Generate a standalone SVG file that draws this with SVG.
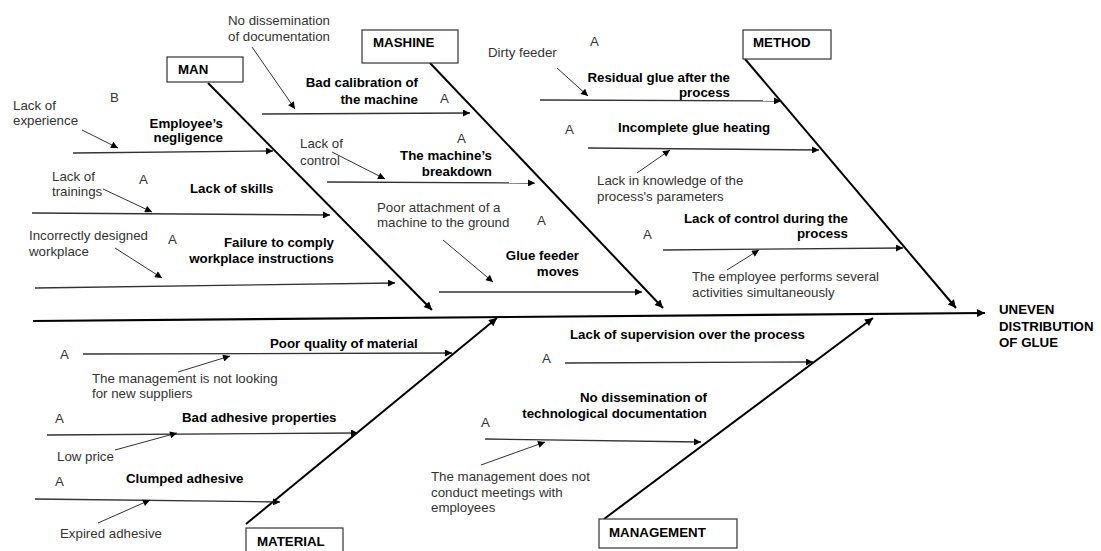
<svg xmlns="http://www.w3.org/2000/svg" width="1101" height="551" viewBox="0 0 1101 551">
<style>
.b{font-family:"Liberation Sans",Arial,sans-serif;font-weight:bold;font-size:13.3px;fill:#000}
.r{font-family:"Liberation Sans",Arial,sans-serif;font-size:13.3px;fill:#333}
.e{text-anchor:end}
.box{fill:#fff;stroke:#333;stroke-width:1.2}
.spine{stroke:#000;stroke-width:2.2;fill:none}
.bone{stroke:#000;stroke-width:2;fill:none}
.sub{stroke:#333;stroke-width:1.3;fill:none}
.thin{stroke:#333;stroke-width:1;fill:none}
</style>
<defs>
<marker id="ah" viewBox="0 0 10 10" refX="10" refY="5" markerWidth="11" markerHeight="8" markerUnits="userSpaceOnUse" orient="auto"><path d="M0,0 L10,5 L0,10 z" fill="#000"/></marker>
<marker id="as" viewBox="0 0 10 10" refX="10" refY="5" markerWidth="10" markerHeight="7" markerUnits="userSpaceOnUse" orient="auto"><path d="M0,0 L10,5 L0,10 z" fill="#000"/></marker>
</defs>
<rect width="1101" height="551" fill="#fff"/>
<g id="connectors">
<line class="spine" x1="33" y1="321" x2="985" y2="313" marker-end="url(#ah)"/>
<line class="bone" x1="208" y1="83" x2="432" y2="310" marker-end="url(#ah)"/>
<line class="bone" x1="430" y1="63" x2="663" y2="308" marker-end="url(#ah)"/>
<line class="bone" x1="745" y1="59" x2="956" y2="308" marker-end="url(#ah)"/>
<line class="bone" x1="246" y1="524" x2="497" y2="318" marker-end="url(#ah)"/>
<line class="bone" x1="604" y1="519" x2="873" y2="318" marker-end="url(#ah)"/>
<line class="sub" x1="73" y1="153" x2="273" y2="151" marker-end="url(#as)"/>
<line class="sub" x1="32" y1="213" x2="330" y2="215" marker-end="url(#as)"/>
<line class="sub" x1="35" y1="288" x2="395" y2="283" marker-end="url(#as)"/>
<line class="sub" x1="262" y1="114" x2="470" y2="113" marker-end="url(#as)"/>
<line class="sub" x1="327" y1="182" x2="535" y2="183" marker-end="url(#as)"/>
<line class="sub" x1="439" y1="292" x2="642" y2="292" marker-end="url(#as)"/>
<line class="sub" x1="540" y1="100" x2="781" y2="101" marker-end="url(#as)"/>
<line class="sub" x1="588" y1="148" x2="819" y2="150" marker-end="url(#as)"/>
<line class="sub" x1="663" y1="250" x2="903" y2="248" marker-end="url(#as)"/>
<line class="sub" x1="83" y1="354" x2="452" y2="353" marker-end="url(#as)"/>
<line class="sub" x1="47" y1="435" x2="358" y2="433" marker-end="url(#as)"/>
<line class="sub" x1="35" y1="499" x2="280" y2="502" marker-end="url(#as)"/>
<line class="sub" x1="565" y1="363" x2="813" y2="362" marker-end="url(#as)"/>
<line class="sub" x1="485" y1="439" x2="701" y2="442" marker-end="url(#as)"/>
<line class="thin" x1="82" y1="130" x2="118" y2="148" marker-end="url(#as)"/>
<line class="thin" x1="103" y1="189" x2="152" y2="212" marker-end="url(#as)"/>
<line class="thin" x1="115" y1="248" x2="162" y2="278" marker-end="url(#as)"/>
<line class="thin" x1="252" y1="47" x2="295" y2="109" marker-end="url(#as)"/>
<line class="thin" x1="332" y1="152" x2="385" y2="179" marker-end="url(#as)"/>
<line class="thin" x1="443" y1="240" x2="493" y2="282" marker-end="url(#as)"/>
<line class="thin" x1="557" y1="68" x2="588" y2="96" marker-end="url(#as)"/>
<line class="thin" x1="637" y1="173" x2="670" y2="150" marker-end="url(#as)"/>
<line class="thin" x1="727" y1="270" x2="759" y2="250" marker-end="url(#as)"/>
<line class="thin" x1="178" y1="372" x2="230" y2="356" marker-end="url(#as)"/>
<line class="thin" x1="115" y1="450" x2="177" y2="433" marker-end="url(#as)"/>
<line class="thin" x1="98" y1="523" x2="150" y2="500" marker-end="url(#as)"/>
<line class="thin" x1="481" y1="465" x2="545" y2="442" marker-end="url(#as)"/>
</g>
<g id="node-man"><rect class="box" x="167" y="57" width="76" height="25"/><text class="b" x="178" y="74">MAN</text></g>
<g id="node-mashine"><rect class="box" x="362" y="30" width="96" height="33"/><text class="b" x="373" y="47">MASHINE</text></g>
<g id="node-method"><rect class="box" x="743" y="30" width="88" height="29"/><text class="b" x="753" y="47">METHOD</text></g>
<g id="node-material"><rect class="box" x="246" y="528" width="97" height="26"/><text class="b" x="257" y="546">MATERIAL</text></g>
<g id="node-management"><rect class="box" x="599" y="519" width="138" height="29"/><text class="b" x="609" y="537">MANAGEMENT</text></g>
<g id="node-effect"><text class="b" x="999" y="314">UNEVEN</text><text class="b" x="999" y="331">DISTRIBUTION</text><text class="b" x="999" y="347">OF GLUE</text></g>
<g id="causes-man">
<text class="b e" x="223" y="128">Employee’s</text><text class="b e" x="223" y="142">negligence</text>
<text class="r" x="13" y="110">Lack of</text><text class="r" x="13" y="125">experience</text>
<text class="r" x="110" y="102">B</text>
<text class="b" x="190" y="193">Lack of skills</text>
<text class="r" x="52" y="181">Lack of</text><text class="r" x="52" y="196">trainings</text>
<text class="r" x="139" y="184">A</text>
<text class="b e" x="334" y="247">Failure to comply</text><text class="b e" x="334" y="263">workplace instructions</text>
<text class="r" x="29" y="240">Incorrectly designed</text><text class="r" x="29" y="256">workplace</text>
<text class="r" x="168" y="244">A</text>
</g>
<g id="causes-mashine">
<text class="b e" x="418" y="87">Bad calibration of</text><text class="b e" x="418" y="104">the machine</text>
<text class="r" x="228" y="25">No dissemination</text><text class="r" x="228" y="41">of documentation</text>
<text class="r" x="440" y="103">A</text>
<text class="b e" x="492" y="160">The machine’s</text><text class="b e" x="492" y="176">breakdown</text>
<text class="r" x="300" y="148">Lack of</text><text class="r" x="300" y="165">control</text>
<text class="r" x="457" y="143">A</text>
<text class="b e" x="579" y="260">Glue feeder</text><text class="b e" x="579" y="276">moves</text>
<text class="r" x="377" y="212">Poor attachment of a</text><text class="r" x="377" y="227">machine to the ground</text>
<text class="r" x="537" y="225">A</text>
</g>
<g id="causes-method">
<text class="b e" x="730" y="82">Residual glue after the</text><text class="b e" x="730" y="97">process</text>
<text class="r" x="488" y="57">Dirty feeder</text>
<text class="r" x="590" y="46">A</text>
<text class="b" x="618" y="132">Incomplete glue heating</text>
<text class="r" x="597" y="185">Lack in knowledge of the</text><text class="r" x="597" y="201">process's parameters</text>
<text class="r" x="565" y="134">A</text>
<text class="b e" x="848" y="223">Lack of control during the</text><text class="b e" x="848" y="238">process</text>
<text class="r" x="692" y="281">The employee performs several</text><text class="r" x="692" y="297">activities simultaneously</text>
<text class="r" x="643" y="239">A</text>
</g>
<g id="causes-material">
<text class="b" x="270" y="348">Poor quality of material</text>
<text class="r" x="92" y="383">The management is not looking</text><text class="r" x="92" y="398">for new suppliers</text>
<text class="r" x="60" y="359">A</text>
<text class="b" x="182" y="422">Bad adhesive properties</text>
<text class="r" x="57" y="461">Low price</text>
<text class="r" x="55" y="423">A</text>
<text class="b" x="126" y="483">Clumped adhesive</text>
<text class="r" x="60" y="538">Expired adhesive</text>
<text class="r" x="55" y="486">A</text>
</g>
<g id="causes-management">
<text class="b" x="570" y="339">Lack of supervision over the process</text>
<text class="r" x="542" y="363">A</text>
<text class="b e" x="707" y="402">No dissemination of</text><text class="b e" x="707" y="418">technological documentation</text>
<text class="r" x="481" y="427">A</text>
<text class="r" x="431" y="481">The management does not</text><text class="r" x="431" y="497">conduct meetings with</text><text class="r" x="431" y="512">employees</text>
</g>
</svg>
